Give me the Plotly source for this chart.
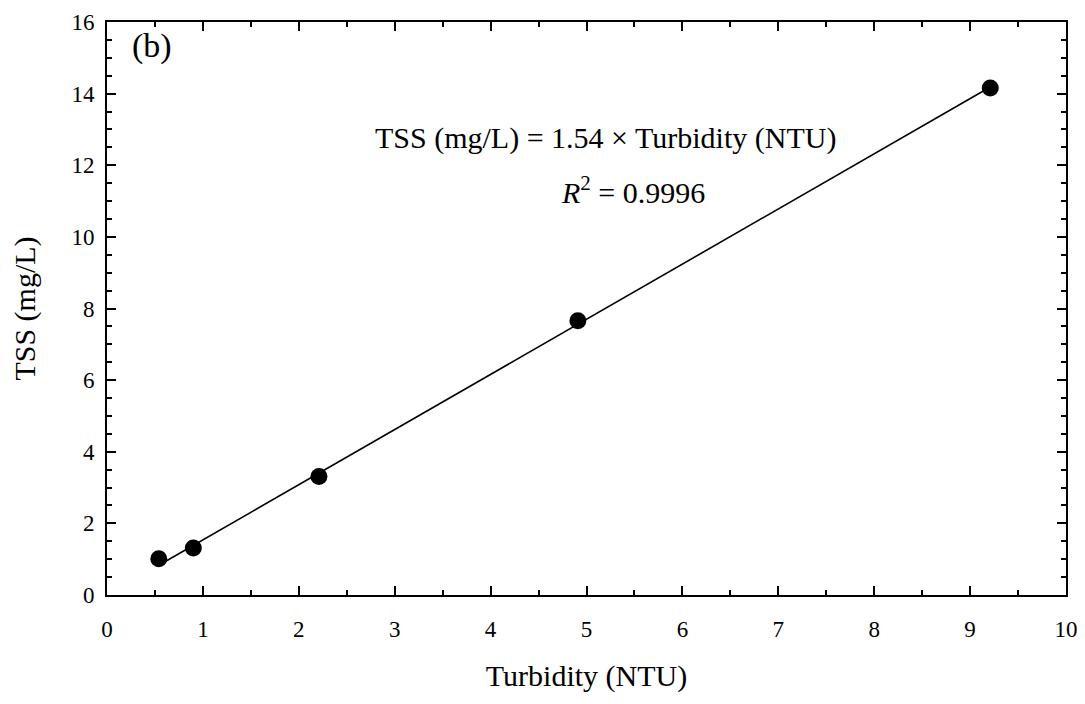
import plotly.graph_objects as go

turbidity = [0.54, 0.90, 2.21, 4.91, 9.21]
tss = [1.01, 1.31, 3.31, 7.66, 14.16]
slope = 1.54
panel_label = "(b)"
eq_text = "TSS (mg/L) = 1.54 × Turbidity (NTU)"
r2_text = "<i>R</i><sup>2</sup> = 0.9996"

FONT = "Liberation Serif, Times New Roman, serif"

fit_x = [min(turbidity), max(turbidity)]
fit_y = [slope * v for v in fit_x]

fig = go.Figure()
fig.add_trace(go.Scatter(x=fit_x, y=fit_y, mode="lines",
                         line=dict(color="black", width=1.6), showlegend=False))
fig.add_trace(go.Scatter(x=turbidity, y=tss, mode="markers",
                         marker=dict(color="black", size=17), showlegend=False))

axis_common = dict(showline=True, linecolor="black", linewidth=2, mirror="ticks",
                   ticks="inside", ticklen=9, tickwidth=2, tickcolor="black",
                   showgrid=False, zeroline=False, automargin=False,
                   tickfont=dict(family=FONT, size=23, color="black"))

fig.update_xaxes(range=[0, 10], dtick=1, tick0=0,
                 minor=dict(dtick=0.5, ticks="inside", ticklen=5, tickwidth=2, tickcolor="black", showgrid=False),
                 title=dict(text="Turbidity (NTU)", font=dict(family=FONT, size=30, color="black"), standoff=24),
                 ticklabelstandoff=12,
                 **axis_common)
fig.update_yaxes(range=[0, 16], dtick=2, tick0=0,
                 minor=dict(dtick=0.5, ticks="inside", ticklen=5, tickwidth=2, tickcolor="black", showgrid=False),
                 title=dict(text="TSS (mg/L)", font=dict(family=FONT, size=30, color="black"), standoff=28),
                 ticklabelstandoff=6,
                 **axis_common)

fig.add_annotation(text=panel_label, xref="paper", yref="paper", x=0.024, y=0.995,
                   xanchor="left", yanchor="top", showarrow=False,
                   font=dict(family=FONT, size=34, color="black"))
fig.add_annotation(text=eq_text, xref="x", yref="y", x=5.2, y=12.75,
                   showarrow=False, font=dict(family=FONT, size=30, color="black"))
fig.add_annotation(text=r2_text, xref="x", yref="y", x=5.49, y=11.3,
                   showarrow=False, font=dict(family=FONT, size=30, color="black"))

fig.update_layout(width=1085, height=704, plot_bgcolor="white", paper_bgcolor="white",
                  margin=dict(l=99, r=27, t=14, b=117))

fig.write_html("out.html")
